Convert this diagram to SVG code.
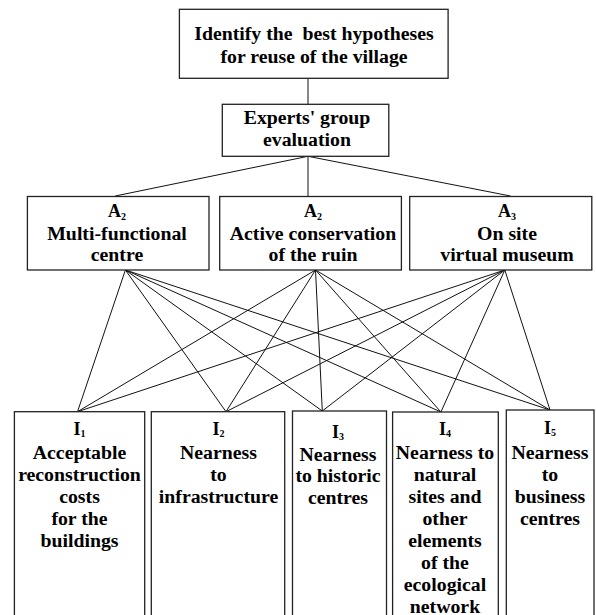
<svg xmlns="http://www.w3.org/2000/svg" width="596" height="615" viewBox="0 0 596 615">
<style>
.box{fill:#fff;stroke:#222;stroke-width:1.3}
.ln{stroke:#111;stroke-width:1;fill:none}
text{font-family:"Liberation Serif","Times New Roman",serif;font-weight:bold;font-size:19.8px;fill:#000;text-anchor:middle}
.lab{font-size:18px}
.sub{font-size:10px}
</style>
<rect width="596" height="615" fill="#fff"/>
<g id="connectors">
<line class="ln" x1="308" y1="78.3" x2="308" y2="104.3"/>
<line class="ln" x1="308" y1="156.3" x2="115.2" y2="196"/>
<line class="ln" x1="308" y1="156.3" x2="308" y2="196"/>
<line class="ln" x1="308" y1="156.3" x2="510.5" y2="196"/>
<g id="from-a1">
<line class="ln" x1="125.4" y1="270" x2="77.5" y2="411.7"/>
<line class="ln" x1="125.4" y1="270" x2="226" y2="411.7"/>
<line class="ln" x1="125.4" y1="270" x2="322.3" y2="411"/>
<line class="ln" x1="125.4" y1="270" x2="440.9" y2="412"/>
<line class="ln" x1="125.4" y1="270" x2="550" y2="410"/>
</g>
<g id="from-a2">
<line class="ln" x1="315.5" y1="270" x2="77.5" y2="411.7"/>
<line class="ln" x1="315.5" y1="270" x2="226" y2="411.7"/>
<line class="ln" x1="315.5" y1="270" x2="322.3" y2="411"/>
<line class="ln" x1="315.5" y1="270" x2="440.9" y2="412"/>
<line class="ln" x1="315.5" y1="270" x2="550" y2="410"/>
</g>
<g id="from-a3">
<line class="ln" x1="504.8" y1="270" x2="77.5" y2="411.7"/>
<line class="ln" x1="504.8" y1="270" x2="226" y2="411.7"/>
<line class="ln" x1="504.8" y1="270" x2="322.3" y2="411"/>
<line class="ln" x1="504.8" y1="270" x2="440.9" y2="412"/>
<line class="ln" x1="504.8" y1="270" x2="550" y2="410"/>
</g>
</g>
<g id="goal">
<rect class="box" x="179.4" y="9.3" width="268.7" height="69"/>
<text x="314" y="40" style="white-space:pre">Identify the  best hypotheses</text>
<text x="314" y="62.7">for reuse of the village</text>
</g>
<g id="experts">
<rect class="box" x="222.3" y="104.3" width="166.5" height="52"/>
<text x="307" y="124">Experts' group</text>
<text x="307" y="145.7">evaluation</text>
</g>
<g id="a1">
<rect class="box" x="27.4" y="196.5" width="181.6" height="73.5"/>
<text class="lab" x="117" y="217">A<tspan class="sub" dy="3">2</tspan></text>
<text x="117" y="240">Multi-functional</text>
<text x="117" y="261">centre</text>
</g>
<g id="a2">
<rect class="box" x="219.7" y="196.5" width="181.7" height="73.5"/>
<text class="lab" x="313" y="217">A<tspan class="sub" dy="3">2</tspan></text>
<text x="313" y="240">Active conservation</text>
<text x="313" y="261">of the ruin</text>
</g>
<g id="a3">
<rect class="box" x="409.7" y="196.5" width="182.1" height="73.5"/>
<text class="lab" x="507" y="217">A<tspan class="sub" dy="3">3</tspan></text>
<text x="507" y="240">On site</text>
<text x="507" y="261">virtual museum</text>
</g>
<g id="i1">
<rect class="box" x="14.4" y="411.7" width="130.3" height="210"/>
<text class="lab" x="79.5" y="435">I<tspan class="sub" dy="2">1</tspan></text>
<text x="79.5" y="458.5">Acceptable</text>
<text x="79.5" y="480.5">reconstruction</text>
<text x="79.5" y="502.5">costs</text>
<text x="79.5" y="524.5">for the</text>
<text x="79.5" y="546.5">buildings</text>
</g>
<g id="i2">
<rect class="box" x="151.3" y="411.7" width="133.4" height="210"/>
<text class="lab" x="218.5" y="435">I<tspan class="sub" dy="2">2</tspan></text>
<text x="218.5" y="458.5">Nearness</text>
<text x="218.5" y="480.5">to</text>
<text x="218.5" y="502.5">infrastructure</text>
</g>
<g id="i3">
<rect class="box" x="292.5" y="411" width="94" height="210"/>
<text class="lab" x="338" y="437.5">I<tspan class="sub" dy="2">3</tspan></text>
<text x="338" y="460.5">Nearness</text>
<text x="338" y="482">to historic</text>
<text x="338" y="504">centres</text>
</g>
<g id="i4">
<rect class="box" x="392.6" y="412" width="105.7" height="210"/>
<text class="lab" x="445" y="434.5">I<tspan class="sub" dy="2">4</tspan></text>
<text x="445" y="458.5">Nearness to</text>
<text x="445" y="480.5">natural</text>
<text x="445" y="502.5">sites and</text>
<text x="445" y="525">other</text>
<text x="445" y="547">elements</text>
<text x="445" y="569">of the</text>
<text x="445" y="591">ecological</text>
<text x="445" y="612.5">network</text>
</g>
<g id="i5">
<rect class="box" x="506.3" y="410" width="87.7" height="212"/>
<text class="lab" x="550" y="434">I<tspan class="sub" dy="2">5</tspan></text>
<text x="550" y="458.5">Nearness</text>
<text x="550" y="480.5">to</text>
<text x="550" y="502.5">business</text>
<text x="550" y="524.5">centres</text>
</g>
</svg>
